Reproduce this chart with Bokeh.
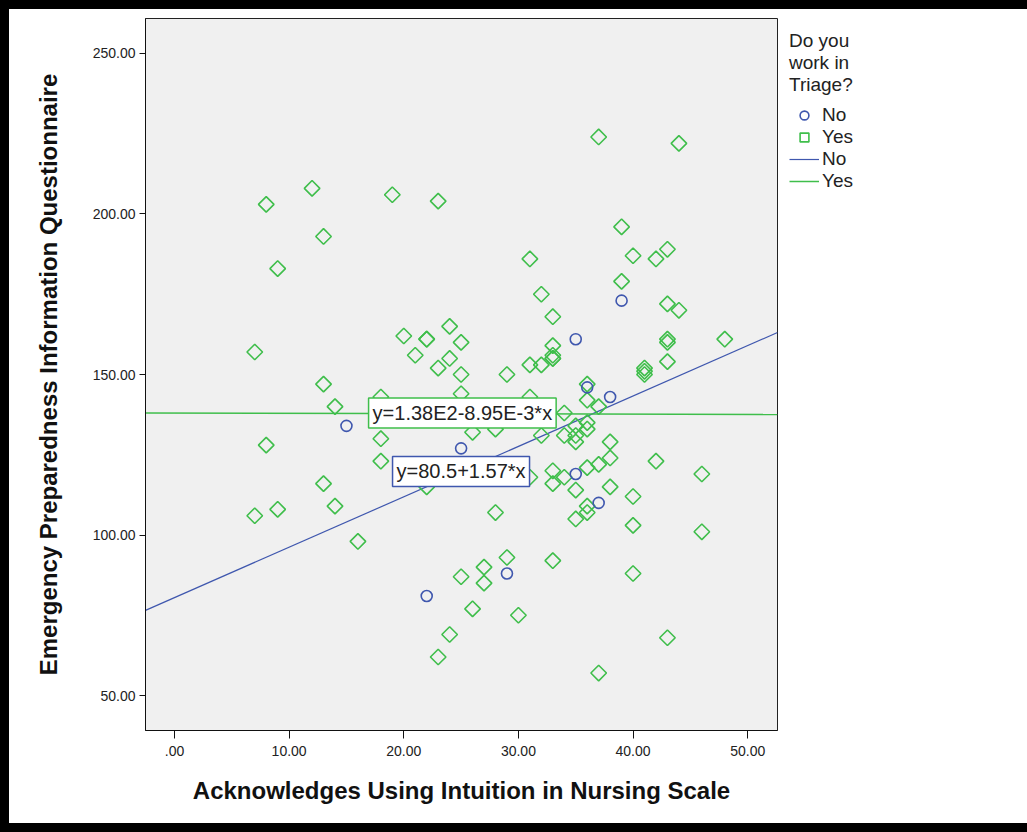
import math
from bokeh.plotting import figure
from bokeh.models import Legend, LegendItem, Label, Range1d, FixedTicker
from bokeh.embed import file_html
from bokeh.resources import INLINE

# ---- data ----
no_x = [15, 22, 25, 29, 35, 35, 36, 37, 38, 39]
no_y = [134, 81, 127, 88, 161, 119, 146, 110, 143, 173]

yes_x = [8, 12, 19, 23, 13, 9, 7, 13, 14, 18, 18, 18, 8, 13, 14, 7, 9, 16,
         20, 21, 22, 22, 24, 24, 23, 25, 25, 25, 26, 28, 22, 28,
         29, 31, 32, 33, 33, 33, 33, 33, 32, 31, 31, 32, 31,
         34, 35, 35, 36, 36, 35, 34,
         36, 36, 37, 38, 38, 37, 36, 34, 33, 33, 35, 38, 42, 46, 40, 36, 36, 35, 40, 46,
         33, 29, 27, 27, 25, 26, 30, 24, 23, 37, 43, 40,
         37, 44, 39, 40, 43, 42, 39, 43, 44, 43, 43, 48, 43, 41, 41, 41]
yes_y = [203, 208, 206, 204, 193, 183, 157, 147, 140, 143, 130, 123, 128, 116, 109, 106, 108, 98,
         162, 156, 161, 161, 165, 155, 152, 160, 150, 144, 132, 133, 115, 107,
         150, 153, 153, 155, 156, 155, 159, 168, 175, 186, 143, 131, 118,
         138, 134, 131, 135, 133, 129, 131,
         147, 142, 140, 129, 124, 122, 121, 118, 120, 116, 114, 115, 123, 119, 112, 109, 107, 105, 103, 101,
         92, 93, 90, 85, 87, 77, 75, 69, 62, 57, 68, 88,
         224, 222, 196, 187, 189, 186, 179, 172, 170, 161, 160, 161, 154, 152, 151, 150]

# fit lines (intercept, slope) as reported
fit_no = (80.5, 1.57)
fit_yes = (138.0, -8.95e-3)
fit_no_text = "y=80.5+1.57*x"
fit_yes_text = "y=1.38E2-8.95E-3*x"

x_ticks = [0, 10, 20, 30, 40, 50]
x_tick_labels = [".00", "10.00", "20.00", "30.00", "40.00", "50.00"]
y_ticks = [50, 100, 150, 200, 250]
y_tick_labels = ["50.00", "100.00", "150.00", "200.00", "250.00"]

x_label = "Acknowledges Using Intuition in Nursing Scale"
y_label = "Emergency Preparedness Information Questionnaire"
legend_title = "Do you\nwork in\nTriage?"
groups = ["No", "Yes"]

BLUE = "#3F57AE"
GREEN = "#3FBE4B"
FONT = "Liberation Sans"

XMIN, XMAX = -2.53, 52.6
YMIN, YMAX = 39.1, 260.9
FW, FH = 632, 712
NAN = float("nan")

p = figure(frame_width=FW, frame_height=FH, output_backend="svg", toolbar_location=None,
           x_range=Range1d(XMIN, XMAX), y_range=Range1d(YMIN, YMAX),
           min_border_left=136, min_border_right=241, min_border_top=9, min_border_bottom=93)
p.styles = {"margin": "9px", "outline": "9px solid black"}
p.background_fill_color = "#F0F0F0"
p.border_fill_color = "white"
p.outline_line_color = "#222222"
p.outline_line_width = 1
p.grid.visible = False

for ax in (p.xaxis[0], p.yaxis[0]):
    ax.axis_line_color = "#111111"
    ax.major_tick_line_color = "#111111"
    ax.minor_tick_line_color = None
    ax.major_tick_in = 0
    ax.major_label_text_font = FONT
    ax.major_label_text_font_size = "14px"
    ax.major_label_text_color = "#222222"
    ax.axis_label_text_font = FONT
    ax.axis_label_text_font_size = "24px"
    ax.axis_label_text_font_style = "bold"
    ax.axis_label_text_color = "#111111"

p.xaxis.ticker = FixedTicker(ticks=x_ticks)
p.xaxis.major_label_overrides = dict(zip(x_ticks, x_tick_labels))
p.xaxis.major_tick_out = 8
p.xaxis.major_label_standoff = 7
p.xaxis.axis_label = x_label
p.xaxis.axis_label_standoff = 18

p.yaxis.ticker = FixedTicker(ticks=y_ticks)
p.yaxis.major_label_overrides = dict(zip(y_ticks, y_tick_labels))
p.yaxis.major_tick_out = 6
p.yaxis.major_label_standoff = 4
p.yaxis.axis_label = y_label
p.yaxis.axis_label_standoff = 28

# fit lines
lx = [XMIN, XMAX]
r_line_no = p.line(lx, [fit_no[0] + fit_no[1] * v for v in lx], line_color=BLUE, line_width=1.2)
r_line_yes = p.line(lx, [fit_yes[0] + fit_yes[1] * v for v in lx], line_color=GREEN, line_width=1.5)

# points
r_yes = p.scatter(yes_x, yes_y, marker="square", size=11, angle=math.pi / 4,
                  fill_alpha=0, line_color=GREEN, line_width=1.6)
r_no = p.scatter(no_x, no_y, marker="circle", size=11, fill_alpha=0,
                 line_color=BLUE, line_width=1.6)
# legend-only key glyphs (not drawn in the plot)
r_no_key = p.scatter([NAN], [NAN], marker="circle", size=14, fill_alpha=0,
                     line_color=BLUE, line_width=1.6)
r_yes_key = p.scatter([NAN], [NAN], marker="square", size=13, angle=math.pi / 4,
                      fill_alpha=0, line_color=GREEN, line_width=1.6)

# fit labels
p.add_layout(Label(x=16.93, y=137.97, text=fit_yes_text, text_font=FONT, text_font_size="20px",
                   text_color="#222222", text_align="left", text_baseline="middle",
                   background_fill_color="white", border_line_color=GREEN, border_line_width=1.5,
                   padding=4))
p.add_layout(Label(x=19.02, y=119.8, text=fit_no_text, text_font=FONT, text_font_size="20px",
                   text_color="#222222", text_align="left", text_baseline="middle",
                   background_fill_color="white", border_line_color=BLUE, border_line_width=1.5,
                   padding=4))

legend = Legend(items=[LegendItem(label=groups[0], renderers=[r_no_key]),
                       LegendItem(label=groups[1], renderers=[r_yes_key]),
                       LegendItem(label=groups[0], renderers=[r_line_no]),
                       LegendItem(label=groups[1], renderers=[r_line_yes])],
                title=legend_title, location="top_left")
legend.title_text_font = FONT
legend.title_text_font_size = "19px"
legend.title_text_font_style = "normal"
legend.title_text_color = "#222222"
legend.title_text_line_height = 1.1
legend.title_standoff = 8
legend.label_text_font = FONT
legend.label_text_font_size = "19px"
legend.label_text_color = "#222222"
legend.label_height = 22
legend.glyph_height = 22
legend.glyph_width = 30
legend.label_standoff = 3
legend.spacing = 0
legend.padding = 0
legend.margin = 12
legend.border_line_alpha = 0
legend.background_fill_alpha = 0
p.add_layout(legend, "right")

open("out.html", "w").write(file_html(p, INLINE))
